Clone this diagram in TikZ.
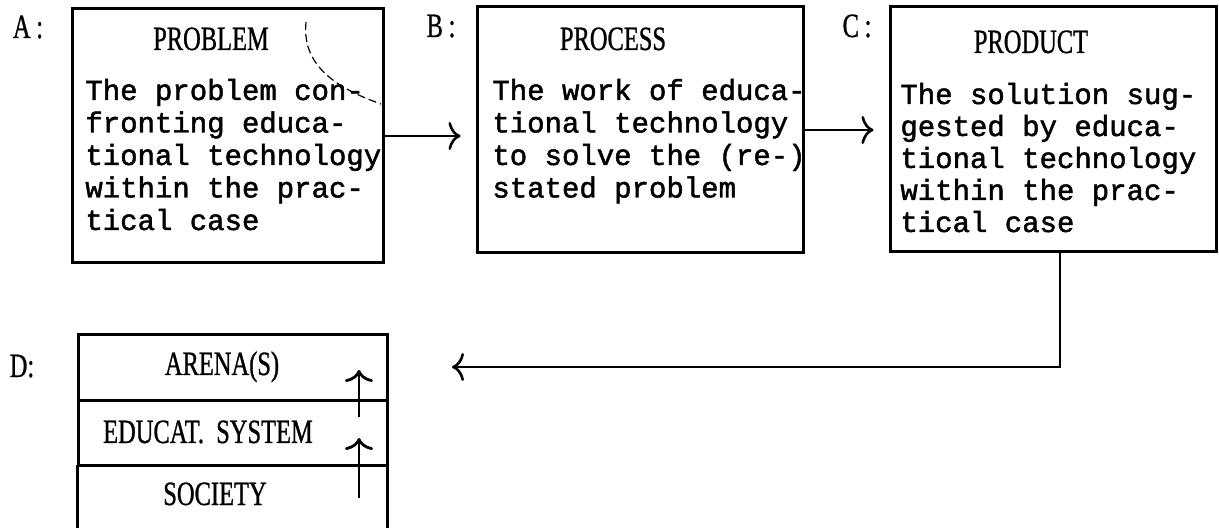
\documentclass[tikz,border=0pt]{standalone}
\usepackage{fontspec}
\setmainfont{Liberation Serif}
\newfontfamily\headfont[FakeStretch=0.72,FakeBold=0.8]{Liberation Serif}
\newfontfamily\typefont[FakeBold=1.6]{Liberation Mono}
\usetikzlibrary{arrows.meta,fit}

\begin{document}
\begin{tikzpicture}[x=0.5pt, y=-0.5pt,
  frame/.style={draw, line width=1.5pt, inner sep=0pt},
  rule/.style={line width=1.5pt},
  flow/.style={line width=1.1pt, -{Computer Modern Rightarrow[length=6pt,width=14pt,line width=1.3pt]}},
  rise/.style={line width=1.4pt, -{Computer Modern Rightarrow[length=6pt,width=14pt,line width=1.4pt]}},
  body/.style={font=\typefont\fontsize{14.5}{16}\selectfont, anchor=base west, inner sep=0pt},
  head/.style={font=\headfont\fontsize{17}{18}\selectfont, anchor=base, inner sep=0pt},
  tag/.style={font=\headfont\fontsize{17}{18}\selectfont, anchor=base, inner sep=0pt}]

\useasboundingbox (0,0) rectangle (1219,528);
\fill[white] (0,0) rectangle (1219,528);

% the three stages
\node[frame, fit={(72,9) (383,263)}] (A) {};
\node[frame, fit={(477,7) (803,253)}] (B) {};
\node[frame, fit={(890,7) (1216,252)}] (C) {};

\node[tag] (tagA) at (28,38) {A\,:};
\node[tag] (tagB) at (441,37) {B\,:};
\node[tag] (tagC) at (857,37) {C\,:};

\node[head] (hA) at (211,50) {PROBLEM};
\node[head] (hB) at (613,50) {PROCESS};
\node[head] (hC) at (1031,53) {PRODUCT};

\foreach \t [count=\i] in {The problem con-, fronting educa-, tional technology, within the prac-, tical case}
  \node[body] (A-\i) at (85, {100+32.5*(\i-1)}) {\t};
\foreach \t [count=\i] in {The work of educa-, tional technology, to solve the (re-), stated problem}
  \node[body] (B-\i) at (492, {100+32.5*(\i-1)}) {\t};
\foreach \t [count=\i] in {The solution sug-, gested by educa-, tional technology, within the prac-, tical case}
  \node[body] (C-\i) at (900, {104+32*(\i-1)}) {\t};

% pencil mark in the first box
\draw[line width=0.6pt, dash pattern=on 4pt off 2pt] (306,22) .. controls (302,62) and (330,86) .. (381,104);

% stage arrows
\draw[flow, shorten >=7.5pt] (A.east) -- (B.west |- A.east);
\draw[flow, shorten >=7.5pt] (B.east) -- (C.west |- B.east);

% the levels of the setting
\node[frame, fit={(78,335) (387,401)}] (arena) {};
\node[frame, fit={(78,401) (387,465)}] (educ) {};
\node[inner sep=0pt, fit={(78,465) (387,528)}] (soc) {};
\draw[rule] (soc.north west) -- (soc.south west);
\draw[rule] (soc.north east) -- (soc.south east);

\node[tag] (tagD) at (22,377) {D:};
\node[head] (hArena) at (222,375) {ARENA(S)};
\node[head] (hEduc) at (208,443) {EDUCAT.~~SYSTEM};
\node[head] (hSoc) at (215,505) {SOCIETY};

\coordinate (up1s) at (359,417);
\coordinate (up1e) at (359,370);
\coordinate (up2s) at (359,498);
\coordinate (up2e) at (359,438);
\draw[rise] (up1s) -- (up1e);
\draw[rise] (up2s) -- (up2e);

% feedback from the product to the setting
\coordinate (turn) at (1060,367);
\coordinate (dend) at (452,367);
\draw[flow] (C.south -| turn) -- (turn) -- (dend);
\end{tikzpicture}
\end{document}
